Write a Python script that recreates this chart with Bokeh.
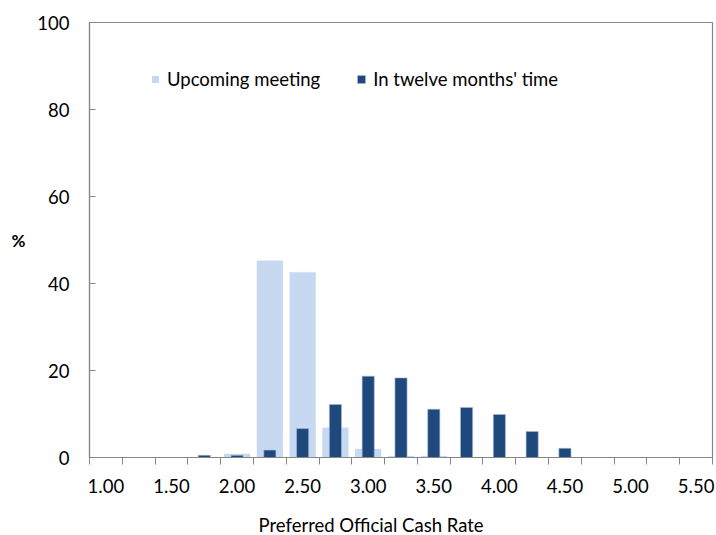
from bokeh.plotting import figure
from bokeh.models import FixedTicker, Legend, LegendItem, Title, Range1d
from bokeh.embed import file_html
from bokeh.resources import INLINE

rates = ["1.00", "1.25", "1.50", "1.75", "2.00", "2.25", "2.50", "2.75", "3.00", "3.25",
         "3.50", "3.75", "4.00", "4.25", "4.50", "4.75", "5.00", "5.25", "5.50"]
upcoming = [0, 0, 0, 0, 1.0, 45.4, 42.7, 7.0, 2.1, 0.5, 0.5, 0, 0, 0, 0, 0, 0, 0, 0]
twelve = [0, 0, 0, 0.5, 0.5, 1.7, 6.65, 12.2, 18.7, 18.3, 11.1, 11.5, 9.9, 6.0, 2.1, 0, 0, 0, 0]
y_ticks = [0, 20, 40, 60, 80, 100]
x_title = "Preferred  Official Cash Rate"

FONT = "Lato"
FS = "18.5px"
GRAY = "#868686"
LIGHT = "#C6D9F1"
DARK = "#1F497D"

idx = list(range(len(rates)))

p = figure(width=716, height=535, output_backend="svg", toolbar_location=None,
           x_range=Range1d(-0.5, len(rates) - 0.5), y_range=Range1d(0, 100),
           min_border_left=89, min_border_right=4, min_border_top=22, min_border_bottom=77)

r1 = p.vbar(x=idx, top=upcoming, width=0.83, fill_color=LIGHT, line_color="white", line_width=1)
r2 = p.vbar(x=idx, top=twelve, width=0.37, fill_color=DARK, line_color="#A9BCD4", line_width=0.6)

p.xgrid.visible = False
p.ygrid.visible = False
p.outline_line_color = GRAY
p.outline_line_width = 1.2
p.background_fill_color = "white"
p.border_fill_color = "white"

xa = p.xaxis[0]
xa.ticker = FixedTicker(ticks=list(range(0, len(rates), 2)),
                        minor_ticks=[i - 0.5 for i in range(len(rates) + 1)])
xa.major_label_overrides = {i: rates[i] for i in range(0, len(rates), 2)}
xa.major_tick_line_color = None
xa.major_tick_out = 7
xa.major_tick_in = 0
xa.minor_tick_line_color = GRAY
xa.minor_tick_out = 7
xa.minor_tick_in = 0
xa.axis_line_color = GRAY
xa.axis_line_width = 1.2
xa.major_label_standoff = 14
xa.major_label_text_font = FONT
xa.major_label_text_font_size = FS
xa.major_label_text_color = "black"

ya = p.yaxis[0]
ya.ticker = FixedTicker(ticks=y_ticks)
ya.minor_tick_line_color = None
ya.major_tick_in = 6
ya.major_tick_out = 0
ya.major_tick_line_color = GRAY
ya.axis_line_color = GRAY
ya.axis_line_width = 1.2
ya.major_label_standoff = 20
ya.major_label_text_font = FONT
ya.major_label_text_font_size = FS
ya.major_label_text_color = "black"
ya.axis_label = "%"
ya.axis_label_orientation = "horizontal"
ya.axis_label_text_font = FONT
ya.axis_label_text_font_style = "bold"
ya.axis_label_text_font_size = "17px"
ya.axis_label_text_color = "black"
ya.axis_label_standoff = 9

spacer = Title(text=" ", text_font_size="12px", standoff=0)
p.add_layout(spacer, "below")
t = Title(text=x_title, align="left", offset=169,
          text_font=FONT, text_font_size="18.5px", text_font_style="normal",
          text_color="black", standoff=0)
p.add_layout(t, "below")

legend = Legend(items=[LegendItem(label="Upcoming meeting", renderers=[r1]),
                       LegendItem(label="In twelve months' time", renderers=[r2])],
                location=(61, 367), orientation="horizontal")
legend.border_line_color = None
legend.background_fill_alpha = 0
legend.padding = 0
legend.margin = 0
legend.spacing = 36
legend.glyph_width = 10
legend.glyph_height = 10
legend.label_standoff = 7
legend.label_text_font = FONT
legend.label_text_font_size = FS
legend.label_text_color = "black"
p.add_layout(legend, "center")

open("out.html", "w").write(file_html(p, INLINE))
